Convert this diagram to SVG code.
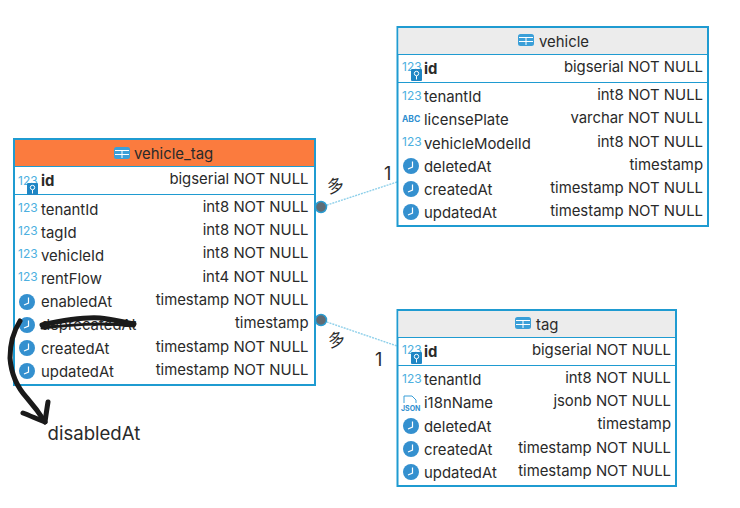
<svg xmlns="http://www.w3.org/2000/svg" width="740" height="508" viewBox="0 0 740 508">
<style>
text{font-family:"Inter","Liberation Sans",sans-serif;font-size:14.900px;fill:#2a2a2a}
.box{fill:#fff;stroke:#1f9bd1;stroke-width:2}
.sep{stroke:#1f9bd1;stroke-width:1.2;fill:none}
.t{text-anchor:end}
.b{font-weight:700}
.n{fill:#4db0e0;font-size:12px}
.conn{stroke:#8fd0ea;stroke-width:1.4;stroke-dasharray:2 1;fill:none}
.dot{fill:#5f6b74;stroke:#2a9bd0;stroke-width:1.5}
.ink{fill:none;stroke:#1a1a1a;stroke-linecap:round;stroke-linejoin:round}
</style>
<defs>
<g id="tbl"><rect x="0" y="0" width="16" height="12" rx="2.500" fill="#3a9fd8"/><path d="M1 3.500H15M1 7.500H15M8 3.500V11" stroke="#fff" stroke-width="1" fill="none"/></g>
<g id="clk"><circle cx="8" cy="8" r="8" fill="#3490cf"/><path d="M9.500 3.500V9L5 11" stroke="#fff" stroke-width="1.200" fill="none"/></g>
<g id="key"><rect x="9" y="7" width="11" height="12" rx="1" fill="#1f86c4"/><circle cx="14.500" cy="11.500" r="2.200" fill="none" stroke="#fff"/><path d="M14.500 14v3.500" stroke="#fff"/></g>
</defs>
<g id="connectors">
<line class="conn" x1="321" y1="207" x2="397" y2="182"/>
<line class="conn" x1="321" y1="320" x2="397" y2="346"/>
</g>
<g id="vehicle_tag">
<rect class="box" x="14" y="139" width="301" height="246"/>
<rect x="15" y="140" width="299" height="26" fill="#fb7b3e"/>
<path class="sep" d="M14 166.500H315M14 194.500H315"/>
<use href="#tbl" x="114" y="147"/>
<text x="134" y="159">vehicle_tag</text>
<text class="n" x="18" y="185">123</text><use href="#key" x="18" y="176"/>
<text class="b" x="41" y="186">id</text><text class="t" x="308.500" y="184">bigserial NOT NULL</text>
<text class="n" x="18" y="212">123</text><text x="41" y="215">tenantId</text><text class="t" x="308.500" y="212">int8 NOT NULL</text>
<text class="n" x="18" y="235">123</text><text x="41" y="238">tagId</text><text class="t" x="308.500" y="235">int8 NOT NULL</text>
<text class="n" x="18" y="258">123</text><text x="41" y="261">vehicleId</text><text class="t" x="308.500" y="258">int8 NOT NULL</text>
<text class="n" x="18" y="281">123</text><text x="41" y="284">rentFlow</text><text class="t" x="308.500" y="282">int4 NOT NULL</text>
<use href="#clk" x="19" y="294"/><text x="41" y="307">enabledAt</text><text class="t" x="308.500" y="305">timestamp NOT NULL</text>
<use href="#clk" x="19" y="317"/><text x="41" y="330">deprecatedAt</text><text class="t" x="308.500" y="328">timestamp</text>
<use href="#clk" x="19" y="340"/><text x="41" y="354">createdAt</text><text class="t" x="308.500" y="352">timestamp NOT NULL</text>
<use href="#clk" x="19" y="363"/><text x="41" y="377">updatedAt</text><text class="t" x="308.500" y="375">timestamp NOT NULL</text>
<circle class="dot" cx="321" cy="207" r="5.500"/>
<circle class="dot" cx="321" cy="320" r="5.500"/>
</g>
<g id="vehicle">
<rect class="box" x="397.500" y="27" width="310.500" height="199"/>
<rect x="398.500" y="28" width="308.500" height="26" fill="#ececec"/>
<path class="sep" d="M397 54.500H708M397 82.500H708"/>
<use href="#tbl" x="518" y="34"/>
<text x="539" y="47">vehicle</text>
<text class="n" x="402" y="71">123</text><use href="#key" x="402" y="62"/>
<text class="b" x="424" y="74">id</text><text class="t" x="703" y="72">bigserial NOT NULL</text>
<text class="n" x="402" y="100">123</text><text x="424" y="102">tenantId</text><text class="t" x="703" y="100">int8 NOT NULL</text>
<text x="402" y="122" style="font-size:8.500px;font-weight:700;fill:#2f8fd0">ABC</text><text x="424" y="125">licensePlate</text><text class="t" x="703" y="123">varchar NOT NULL</text>
<text class="n" x="402" y="146">123</text><text x="424" y="149">vehicleModelId</text><text class="t" x="703" y="147">int8 NOT NULL</text>
<use href="#clk" x="403" y="158"/><text x="424" y="172">deletedAt</text><text class="t" x="703" y="170">timestamp</text>
<use href="#clk" x="403" y="181"/><text x="424" y="195">createdAt</text><text class="t" x="703" y="193">timestamp NOT NULL</text>
<use href="#clk" x="403" y="204"/><text x="424" y="218">updatedAt</text><text class="t" x="703" y="216">timestamp NOT NULL</text>
</g>
<g id="tag">
<rect class="box" x="397.500" y="310" width="278.500" height="176"/>
<rect x="398.500" y="311" width="276.500" height="26" fill="#ececec"/>
<path class="sep" d="M397 337.500H676M397 365.500H676"/>
<use href="#tbl" x="515" y="317"/>
<text x="536" y="330">tag</text>
<text class="n" x="402" y="354">123</text><use href="#key" x="402" y="345"/>
<text class="b" x="424" y="357">id</text><text class="t" x="671" y="355">bigserial NOT NULL</text>
<text class="n" x="402" y="383">123</text><text x="424" y="385">tenantId</text><text class="t" x="671" y="383">int8 NOT NULL</text>
<path d="M404 403v-7h8l4 4v3" fill="none" stroke="#3a9fd8"/><text x="401" y="411" style="font-size:7px;font-weight:700;fill:#2f8fd0">JSON</text><text x="424" y="408">i18nName</text><text class="t" x="671" y="406">jsonb NOT NULL</text>
<use href="#clk" x="403" y="418"/><text x="424" y="432">deletedAt</text><text class="t" x="671" y="429">timestamp</text>
<use href="#clk" x="403" y="441"/><text x="424" y="455">createdAt</text><text class="t" x="671" y="453">timestamp NOT NULL</text>
<use href="#clk" x="403" y="464"/><text x="424" y="478">updatedAt</text><text class="t" x="671" y="476">timestamp NOT NULL</text>
</g>
<g id="annotations">
<text transform="rotate(-15 335 186)" x="327" y="192" style="font-family:'Noto Sans CJK SC',sans-serif;font-size:17px">多</text>
<text x="384" y="180" style="font-size:18px">1</text>
<text transform="rotate(-15 336 340)" x="328" y="346" style="font-family:'Noto Sans CJK SC',sans-serif;font-size:17px">多</text>
<text x="375" y="366" style="font-size:18px">1</text>
<text x="47.500" y="440" style="font-size:18.600px">disabledAt</text>
<path class="ink" stroke-width="5" d="M42 325C60 321 85 317 100 318C112 319 122 322 134 324"/>
<path class="ink" stroke-width="3" d="M42 328C70 325 100 322 134 326"/>
<path class="ink" stroke-width="5" d="M20 321C13 332 10 345 10 358C11 372 16 386 27 398C34 406 40 414 45 422"/>
<path class="ink" stroke-width="5" d="M23 413C31 416 39 420 45 422C46 415 47 408 48 402"/>
</g>
</svg>
